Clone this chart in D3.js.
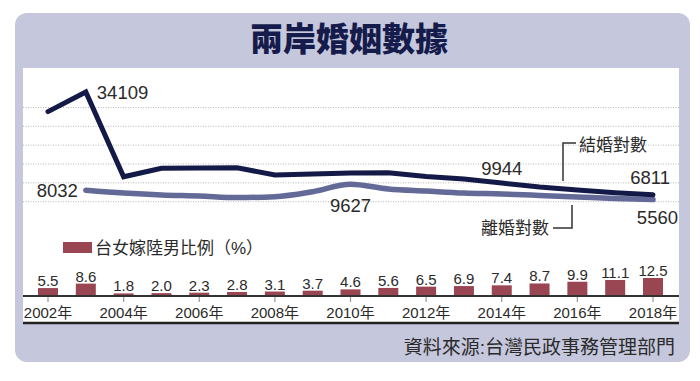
<!DOCTYPE html>
<html><head><meta charset="utf-8">
<script src="https://cdn.jsdelivr.net/npm/d3@7"></script>
<style>body{margin:0;background:#fff}svg{display:block}</style>
</head><body>
<script>
const years = d3.range(2002, 2019);
const marriages = [28900, 34109, 11600, 13850, 13950, 14000, 12080, 12350, 12600, 12700, 11700, 11000, 9944, 8900, 8100, 7350, 6811];
const divorceYears = d3.range(2003, 2019);
const divorces = [8032, 7300, 6780, 6500, 6080, 6320, 7650, 9627, 8380, 7830, 7300, 7040, 6650, 6250, 5850, 5560];
const ratio = [5.5, 8.6, 1.8, 2.0, 2.3, 2.8, 3.1, 3.7, 4.6, 5.6, 6.5, 6.9, 7.4, 8.7, 9.9, 11.1, 12.5];
const gridValues = [5000, 10000, 15000, 20000, 25000, 30000];
const tickYears = [2002, 2004, 2006, 2008, 2010, 2012, 2014, 2016, 2018];

const W = 700, H = 381;
const svg = d3.select("body").append("svg").attr("width", W).attr("height", H);
const NUM = "'Liberation Sans', Arial, sans-serif";
const CJK = "'Liberation Sans', 'Noto Sans CJK TC', sans-serif";

// panel
svg.append("rect").attr("x", 15).attr("y", 13).attr("width", 675).attr("height", 349).attr("rx", 12).attr("fill", "#c5c7dc");
svg.append("rect").attr("x", 23).attr("y", 68).attr("width", 656).attr("height", 255).attr("fill", "#fff");

svg.append("text").attr("x", 349).attr("y", 51).attr("text-anchor", "middle")
  .attr("font-family", "'Noto Sans CJK TC', sans-serif").attr("font-weight", 900)
  .attr("font-size", 33).attr("fill", "#151b4b").text("兩岸婚姻數據");

const x = d3.scaleLinear().domain([2002, 2018]).range([48, 653]);
const y = d3.scaleLinear().domain([0, 30000]).range([220.5, 107.5]);
const yb = d3.scaleLinear().domain([0, 10]).range([296, 281.6]);

// grid
svg.append("g").selectAll("line").data(gridValues).join("line")
  .attr("x1", 23).attr("x2", 679).attr("y1", d => y(d)).attr("y2", d => y(d))
  .attr("stroke", "#b8b8b8").attr("stroke-width", 1).attr("stroke-dasharray", "1,1.5");

// lines
svg.append("path").datum(divorces.map((v, i) => [divorceYears[i], v]))
  .attr("d", d3.line().x(d => x(d[0])).y(d => y(d[1])).curve(d3.curveMonotoneX))
  .attr("fill", "none").attr("stroke", "#646a97").attr("stroke-width", 5.5).attr("stroke-linecap", "round");
svg.append("path").datum(marriages.map((v, i) => [years[i], v]))
  .attr("d", d3.line().x(d => x(d[0])).y(d => y(d[1])))
  .attr("fill", "none").attr("stroke", "#141a47").attr("stroke-width", 5).attr("stroke-linecap", "round").attr("stroke-linejoin", "miter");

// line labels
const lab = (t, xx, yy, anchor) => svg.append("text").attr("x", xx).attr("y", yy).attr("text-anchor", anchor || "start")
  .attr("font-family", NUM).attr("font-size", 18.5).attr("fill", "#2a2a2a").text(t);
lab(d3.format("d")(marriages[1]), x(2003) + 11, y(marriages[1]) + 7);
lab(d3.format("d")(divorces[0]), x(2003) - 8, y(divorces[0]) + 7, "end");
lab(d3.format("d")(divorces[7]), x(2010), y(divorces[7]) + 28, "middle");
lab(d3.format("d")(marriages[12]), x(2014), y(marriages[12]) - 8, "middle");
lab(d3.format("d")(marriages[16]), x(2018) + 17, y(marriages[16]) - 11, "end");
lab(d3.format("d")(divorces[15]), x(2018) + 25, y(divorces[15]) + 24, "end");

// annotations
svg.append("polyline").attr("points", "576,143 563,143 563,181").attr("fill", "none").attr("stroke", "#333").attr("stroke-width", 1.5);
svg.append("polyline").attr("points", "553,228 572,228 572,205").attr("fill", "none").attr("stroke", "#333").attr("stroke-width", 1.5);
svg.append("text").attr("x", 579).attr("y", 151).attr("font-family", CJK).attr("font-size", 17).attr("fill", "#2a2a2a").text("結婚對數");
svg.append("text").attr("x", 481).attr("y", 234).attr("font-family", CJK).attr("font-size", 17).attr("fill", "#2a2a2a").text("離婚對數");

// legend
svg.append("rect").attr("x", 63).attr("y", 242).attr("width", 29).attr("height", 11).attr("fill", "#9a4652");
svg.append("text").attr("x", 95).attr("y", 254).attr("font-family", CJK).attr("font-size", 17).attr("fill", "#2a2a2a").text("台女嫁陸男比例（%）");

// bars
svg.append("g").selectAll("rect").data(ratio).join("rect")
  .attr("x", (d, i) => x(years[i]) - 10).attr("width", 20)
  .attr("y", d => yb(d)).attr("height", d => yb(0) - yb(d)).attr("fill", "#9a4652");
svg.append("g").selectAll("text").data(ratio).join("text")
  .attr("x", (d, i) => x(years[i])).attr("y", d => yb(d) - 2).attr("text-anchor", "middle")
  .attr("font-family", NUM).attr("font-size", 15).attr("fill", "#2a2a2a").text(d => d.toFixed(1));

// axis
svg.append("line").attr("x1", 23).attr("x2", 679).attr("y1", 296).attr("y2", 296).attr("stroke", "#333").attr("stroke-width", 2);
svg.append("g").selectAll("line").data(tickYears).join("line")
  .attr("x1", d => x(d)).attr("x2", d => x(d)).attr("y1", 297).attr("y2", 302).attr("stroke", "#999").attr("stroke-width", 1.2);
svg.append("g").selectAll("text").data(tickYears).join("text")
  .attr("x", d => x(d)).attr("y", 318).attr("text-anchor", "middle")
  .attr("font-family", CJK).attr("font-size", 15).attr("fill", "#2a2a2a").text(d => d + "年");
svg.append("line").attr("x1", 23).attr("x2", 679).attr("y1", 323).attr("y2", 323).attr("stroke", "#222").attr("stroke-width", 2.5);

svg.append("text").attr("x", 675).attr("y", 354).attr("text-anchor", "end")
  .attr("font-family", CJK).attr("font-size", 19).attr("fill", "#2a2a2a").text("資料來源:台灣民政事務管理部門");
</script>
</body></html>
